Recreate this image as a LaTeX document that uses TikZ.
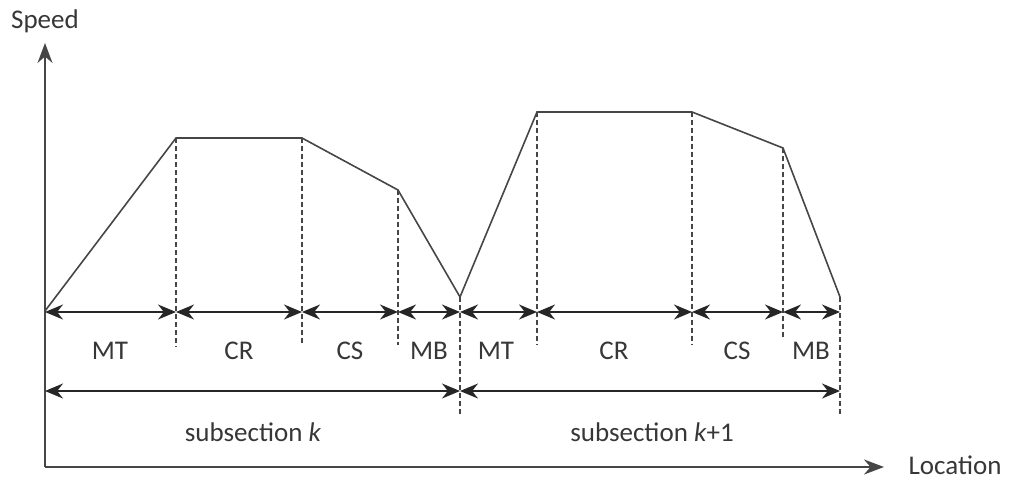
\documentclass[tikz,border=0pt]{standalone}
\usepackage{fontspec}
\setmainfont{Carlito}
\usetikzlibrary{arrows.meta}

\begin{document}
\begin{tikzpicture}[x=0.5pt, y=-0.5pt, font=\fontsize{13.5}{16}\selectfont]
    % Styles
    \definecolor{linegray}{RGB}{70, 70, 70}
    \definecolor{textgray}{RGB}{55, 55, 55}
    \tikzset{
        axisline/.style={draw=linegray, line width=0.9pt, -{Stealth[length=10pt, width=7.5pt]}},
        dimline/.style={draw=black!85, line width=0.8pt, {Stealth[length=9pt, width=7.5pt]}-{Stealth[length=9pt, width=7.5pt]}},
        guide/.style={draw=linegray, line width=0.6pt, dash pattern=on 2.5pt off 1.5pt},
        curve/.style={draw=linegray, line width=0.8pt},
        lbl/.style={text=textgray}
    }
    \useasboundingbox (0, 0) rectangle (1010, 482);

    % Axes
    \coordinate (origin) at (45, 467);
    \coordinate (ytip) at (45, 43);
    \coordinate (xtip) at (884, 467);
    \draw[axisline] (origin) -- (ytip);
    \draw[axisline] (origin) -- (xtip);
    \node[lbl] (speed) at (45, 21) {Speed};
    \node[lbl] (location) at (955, 465) {Location};

    % Speed profile
    \foreach \n/\x/\y in {0/45/311, 1/176/138, 2/302/138, 3/398/190, 4/460/297,
                          5/537/112, 6/692/112, 7/783/148, 8/840/297} {
        \coordinate (v\n) at (\x, \y);
    }
    \draw[curve] (v0) -- (v1) -- (v2) -- (v3) -- (v4) -- (v5) -- (v6) -- (v7) -- (v8);

    % Dashed guides
    \foreach \n/\x/\bot in {1/176/347, 2/302/345, 3/398/345, 4/460/416,
                            5/537/345, 6/692/345, 7/783/340, 8/840/416} {
        \coordinate (g\n) at (\x, \bot);
        \draw[guide] (v\n) -- (g\n);
    }

    % Phase arrows
    \foreach \n/\x in {0/45, 1/176, 2/302, 3/398, 4/460, 5/537, 6/692, 7/783, 8/840} {
        \coordinate (m\n) at (\x, 312);
    }
    \foreach \a/\b in {0/1, 1/2, 2/3, 3/4, 4/5, 5/6, 6/7, 7/8} {
        \draw[dimline] (m\a) -- (m\b);
    }
    \foreach \x/\t in {110/MT, 239/CR, 350/CS, 429/MB, 496/MT, 614/CR, 737/CS, 811/MB} {
        \node[lbl] at (\x, 351) {\t};
    }

    % Subsection arrows
    \coordinate (s0) at (45, 391);
    \coordinate (s1) at (460, 391);
    \coordinate (s2) at (840, 391);
    \draw[dimline] (s0) -- (s1);
    \draw[dimline] (s1) -- (s2);
    \node[lbl] (subk) at (253, 432) {subsection \textit{k}};
    \node[lbl] (subk1) at (652, 432) {subsection \textit{k}+1};
\end{tikzpicture}
\end{document}
